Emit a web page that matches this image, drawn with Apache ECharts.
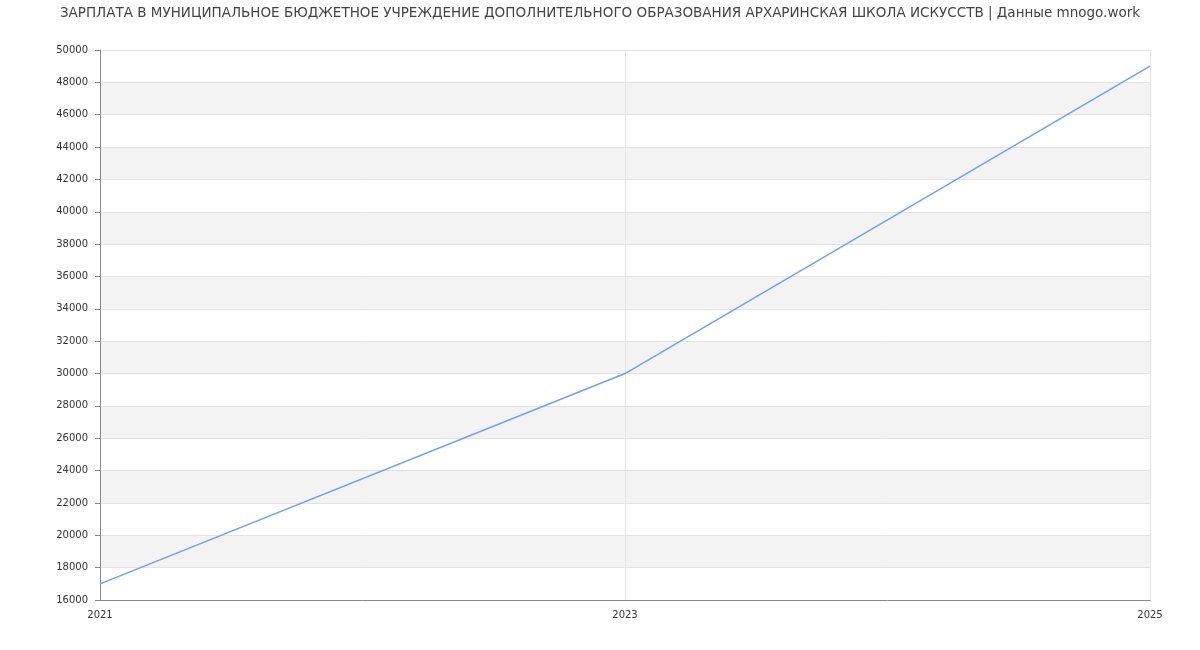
<!DOCTYPE html>
<html>
<head>
<meta charset="utf-8">
<script src="https://cdn.jsdelivr.net/npm/echarts@6/dist/echarts.min.js"></script>
<style>
  html, body { margin: 0; padding: 0; background: #fff; }
  #chart { width: 1200px; height: 650px; }
</style>
</head>
<body>
<div id="chart"></div>
<script>
// данные графика
var titleText = 'ЗАРПЛАТА В МУНИЦИПАЛЬНОЕ БЮДЖЕТНОЕ УЧРЕЖДЕНИЕ ДОПОЛНИТЕЛЬНОГО ОБРАЗОВАНИЯ АРХАРИНСКАЯ ШКОЛА ИСКУССТВ | Данные mnogo.work';
var years = ['2021', '2023', '2025'];
var salary = [17000, 30000, 49000];

var myChart = echarts.init(document.getElementById('chart'));
var option = {
  backgroundColor: '#fff',
  textStyle: { fontFamily: 'DejaVu Sans' },
  title: {
    text: titleText,
    left: 'center',
    top: 1,
    textStyle: { fontSize: 13.5, fontWeight: 'normal', color: '#444', fontFamily: 'DejaVu Sans' }
  },
  grid: { left: 100, right: 50, top: 50, bottom: 50 },
  xAxis: {
    type: 'category',
    data: years,
    boundaryGap: false,
    axisLine: { lineStyle: { color: '#888' } },
    axisTick: { show: false },
    axisLabel: { fontSize: 10, color: '#333', margin: 10, fontFamily: 'DejaVu Sans' },
    splitLine: { show: true, lineStyle: { color: '#e6e6e6' } }
  },
  yAxis: {
    type: 'value',
    min: 16000,
    max: 50000,
    interval: 2000,
    axisLine: { show: true, lineStyle: { color: '#888' } },
    axisTick: { show: true, length: 5, lineStyle: { color: '#888' } },
    axisLabel: {
      fontSize: 10, color: '#333', margin: 12, fontFamily: 'DejaVu Sans',
      formatter: function (v) { return String(v); }
    },
    splitLine: { show: true, lineStyle: { color: '#e3e3e3' } },
    splitArea: { show: true, areaStyle: { color: ['#ffffff', '#f3f3f3'] } }
  },
  series: [{
    type: 'line',
    data: salary,
    symbol: 'none',
    lineStyle: { color: '#739ef5', width: 1.5 },
    itemStyle: { color: '#739ef5' }
  }]
};
myChart.setOption(option);
</script>
</body>
</html>
